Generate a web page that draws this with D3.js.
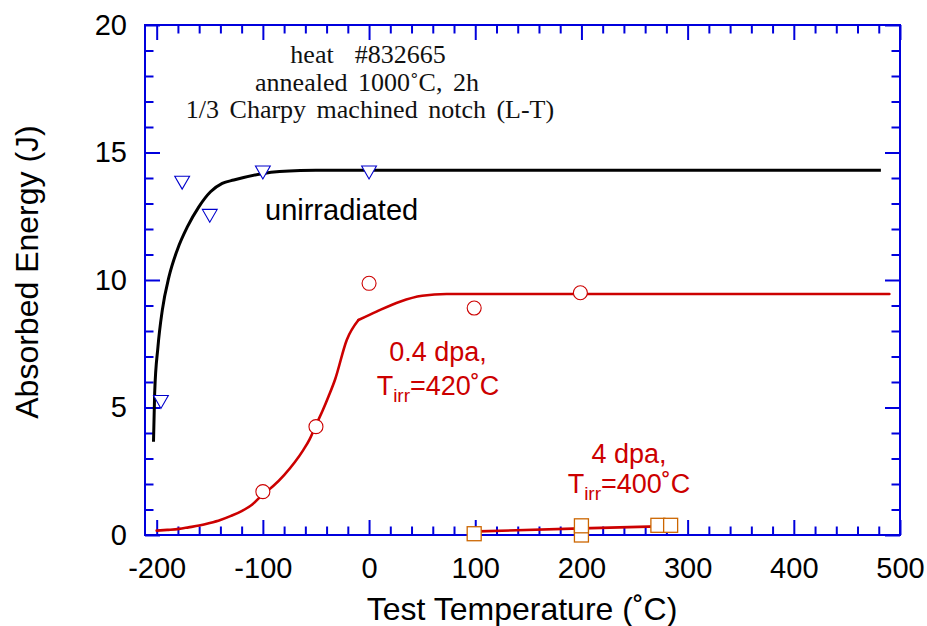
<!DOCTYPE html>
<html>
<head>
<meta charset="utf-8">
<script src="https://cdn.jsdelivr.net/npm/d3@7"></script>
<style>
  body { margin: 0; background: #fff; }
  text { font-family: "Liberation Sans", Arial, sans-serif; }
</style>
</head>
<body>
<div class="canvas"></div>
<script>
// ---- data ----
// unirradiated (open triangles)
const unirrT = [-196, -176, -150, -100, 0];
const unirrE = [5.3, 13.9, 12.6, 14.3, 14.3];
// 0.4 dpa, Tirr=420C (open circles)
const dpa04T = [-100, -50, 0, 99, 199];
const dpa04E = [1.7, 4.25, 9.87, 8.9, 9.5];
// 4 dpa, Tirr=400C (open squares)
const dpa4T = [99, 200, 200, 272, 284];
const dpa4E = [0.05, 0, 0.36, 0.38, 0.38];

// fitted curves
const unirrFitT = [-203, -201.9, -198.8, -194.7, -188.4, -180.6, -171, -160.3, -149.3, -138.3, -127.4, -99.2, -64.8, -50, 482];
const unirrFitE = [3.66, 5.56, 7.38, 8.82, 10.13, 11.18, 12.09, 12.87, 13.46, 13.79, 13.92, 14.18, 14.29, 14.3, 14.3];
const dpa04FitT = [-200, -190, -179, -170, -160, -150, -140, -130, -120, -110, -100, -90, -80, -70, -62, -56, -50.7, -44, -38, -32, -21, -10, 7, 29, 50, 73, 490];
const dpa04FitE = [0.17, 0.2, 0.24, 0.3, 0.37, 0.47, 0.59, 0.75, 0.94, 1.2, 1.6, 1.93, 2.35, 2.85, 3.33, 3.75, 4.25, 4.85, 5.45, 6.1, 7.65, 8.43, 8.76, 9.15, 9.38, 9.45, 9.45];
const dpa04Kink = -10;   // the fit has a visible corner here
const dpa4FitT = [100, 200, 272];
const dpa4FitE = [0.14, 0.26, 0.34];

const xMajor = [-200, -100, 0, 100, 200, 300, 400, 500];
const yMajor = [0, 5, 10, 15, 20];

const zip = (a, b) => a.map((v, i) => ({t: v, e: b[i]}));

// ---- svg & layout ----
const width = 927, height = 626;
const svg = d3.select('.canvas').append('svg')
  .attr('width', width)
  .attr('height', height);

const plot = {left: 145, right: 900, top: 25, bottom: 535};
const blue = '#0000dd', red = '#cc0000', orange = '#cc6600';

const x = d3.scaleLinear().domain([-211, 500]).range([plot.left, plot.right]);
const y = d3.scaleLinear().domain([0, 20]).range([plot.bottom, plot.top]);

const xMinor = d3.range(-200, 501, 20).filter(v => v % 100 !== 0);
const yMinor = d3.range(0, 20.01, 1).filter(v => v % 5 !== 0);

// axes: ticks point inwards on all four sides
const styleAxis = g => {
  g.select('.domain').remove();
  g.selectAll('line').attr('stroke', blue).attr('stroke-width', 2);
  g.selectAll('text').attr('fill', '#000').attr('font-size', 29)
    .attr('font-family', '"Liberation Sans", Arial, sans-serif');
};

// plain hyphen for negatives, like the original
const plain = d => String(d);

svg.append('g').attr('transform', `translate(0,${plot.bottom})`)
  .call(d3.axisBottom(x).tickValues(xMajor).tickSize(-15).tickPadding(22).tickFormat(plain))
  .call(styleAxis);
svg.append('g').attr('transform', `translate(0,${plot.bottom})`)
  .call(d3.axisBottom(x).tickValues(xMinor).tickSize(-8.5).tickFormat(''))
  .call(styleAxis);
svg.append('g').attr('transform', `translate(0,${plot.top})`)
  .call(d3.axisTop(x).tickValues(xMajor).tickSize(-15).tickFormat(''))
  .call(styleAxis);
svg.append('g').attr('transform', `translate(0,${plot.top})`)
  .call(d3.axisTop(x).tickValues(xMinor).tickSize(-8.5).tickFormat(''))
  .call(styleAxis);

svg.append('g').attr('transform', `translate(${plot.left},0)`)
  .call(d3.axisLeft(y).tickValues(yMajor).tickSize(-15).tickPadding(18).tickFormat(plain))
  .call(styleAxis);
svg.append('g').attr('transform', `translate(${plot.left},0)`)
  .call(d3.axisLeft(y).tickValues(yMinor).tickSize(-8.5).tickFormat(''))
  .call(styleAxis);
svg.append('g').attr('transform', `translate(${plot.right},0)`)
  .call(d3.axisRight(y).tickValues(yMajor).tickSize(-15).tickFormat(''))
  .call(styleAxis);
svg.append('g').attr('transform', `translate(${plot.right},0)`)
  .call(d3.axisRight(y).tickValues(yMinor).tickSize(-8.5).tickFormat(''))
  .call(styleAxis);

// frame
svg.append('rect')
  .attr('x', plot.left).attr('y', plot.top)
  .attr('width', plot.right - plot.left).attr('height', plot.bottom - plot.top)
  .attr('fill', 'none').attr('stroke', blue).attr('stroke-width', 2);

// axis titles
svg.append('text')
  .attr('x', 522).attr('y', 620)
  .attr('text-anchor', 'middle').attr('font-size', 32)
  .text('Test Temperature (˚C)');
svg.append('text')
  .attr('transform', 'translate(38,272) rotate(-90)')
  .attr('text-anchor', 'middle').attr('font-size', 32)
  .text('Absorbed Energy (J)');

// ---- fitted curves ----
const smooth = d3.line().x(d => x(d.t)).y(d => y(d.e)).curve(d3.curveMonotoneX);

svg.append('path').datum(zip(unirrFitT, unirrFitE))
  .attr('d', smooth).attr('fill', 'none').attr('stroke', '#000').attr('stroke-width', 3);

// 0.4 dpa fit drawn as two smooth pieces meeting at the corner
const dpa04Fit = zip(dpa04FitT, dpa04FitE);
const k = dpa04FitT.indexOf(dpa04Kink);
[dpa04Fit.slice(0, k + 1), dpa04Fit.slice(k)].forEach(part => {
  svg.append('path').datum(part)
    .attr('d', smooth).attr('fill', 'none').attr('stroke', red).attr('stroke-width', 2.6)
    .attr('stroke-linecap', 'round');
});
svg.append('path').datum(zip(dpa4FitT, dpa4FitE))
  .attr('d', smooth).attr('fill', 'none').attr('stroke', red).attr('stroke-width', 2.6);

// ---- markers ----
const tri = d3.symbol().type(d3.symbolTriangle).size(95);
svg.append('g').selectAll('path')
  .data(zip(unirrT, unirrE))
  .enter().append('path')
    .attr('d', tri)
    .attr('transform', d => `translate(${x(d.t)},${y(d.e)}) rotate(180)`)
    .attr('fill', '#fff').attr('stroke', '#0000cc').attr('stroke-width', 1.1);

svg.append('g').selectAll('circle')
  .data(zip(dpa04T, dpa04E))
  .enter().append('circle')
    .attr('cx', d => x(d.t)).attr('cy', d => y(d.e)).attr('r', 7)
    .attr('fill', '#fff').attr('stroke', red).attr('stroke-width', 1.1);

svg.append('g').selectAll('rect')
  .data(zip(dpa4T, dpa4E))
  .enter().append('rect')
    .attr('x', d => x(d.t) - 7).attr('y', d => y(d.e) - 7)
    .attr('width', 14).attr('height', 14)
    .attr('fill', '#fff').attr('stroke', orange).attr('stroke-width', 1.3);

// ---- annotations ----
const note = svg.append('g')
  .attr('font-size', 26).attr('fill', '#111')
  .attr('text-anchor', 'middle').attr('word-spacing', 4);
note.append('text').attr('x', 368).attr('y', 63).text('heat  #832665').style('white-space', 'pre');
note.append('text').attr('x', 367).attr('y', 91).text('annealed 1000˚C, 2h');
note.append('text').attr('x', 370).attr('y', 118).text('1/3 Charpy machined notch (L-T)');
note.selectAll('text').style('font-family', '"Liberation Serif", "Times New Roman", serif');

svg.append('text').attr('x', 265).attr('y', 220)
  .attr('font-size', 29).attr('fill', '#000').text('unirradiated');

const redLabel = (cx, y1, y2, first, temp) => {
  svg.append('text').attr('x', cx).attr('y', y1)
    .attr('text-anchor', 'middle').attr('font-size', 27).attr('fill', red)
    .text(first);
  const t = svg.append('text').attr('x', cx).attr('y', y2)
    .attr('text-anchor', 'middle').attr('font-size', 27).attr('fill', red);
  t.append('tspan').text('T');
  t.append('tspan').attr('font-size', 19).attr('dy', 7).text('irr');
  t.append('tspan').attr('dy', -7).text('=' + temp + '˚C');
};
redLabel(438, 361, 395, '0.4 dpa,', 420);
redLabel(629, 463, 493, '4 dpa,', 400);
</script>
</body>
</html>
